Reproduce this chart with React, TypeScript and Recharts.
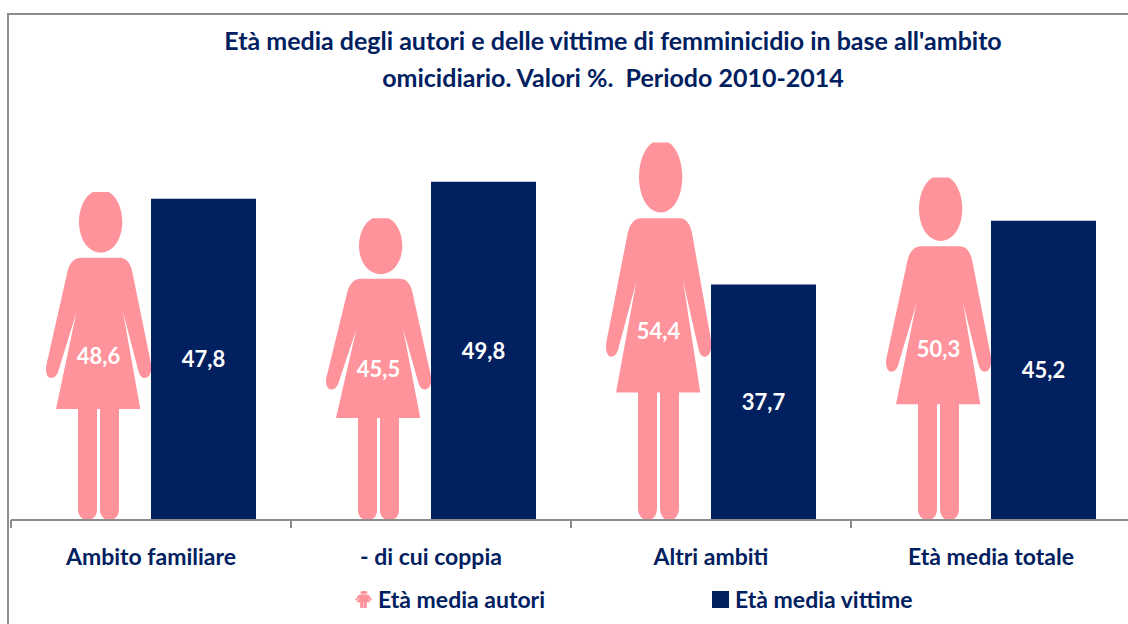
import React from "react";
import { BarChart, Bar, XAxis, YAxis, Legend, LabelList } from "recharts";

const categories = ["Ambito familiare", "- di cui coppia", "Altri ambiti", "Età media totale"];
const vittime = [48.6, 45.5, 54.4, 50.3];
const autori = [47.8, 49.8, 37.7, 45.2];
const titleLines = [
  "Età media degli autori e delle vittime di femminicidio in base all'ambito",
  "omicidiario. Valori %.  Periodo 2010-2014",
];

const chartData = categories.map((name, i) => ({
  name,
  vittime: vittime[i],
  autori: autori[i],
}));

const PINK = "#ff939c";
const NAVY = "#002060";
const GREY = "#8c8c8c";
const FONT = "Lato, 'Open Sans', sans-serif";
const BAND = 280;

// silhouette traced on a 315 x 982 master, stretched to whatever box the bar gets
const figurePath = (x: number, y: number, w: number, h: number) => {
  const X = (v: number) => (x + (v / 315) * w).toFixed(1);
  const Y = (v: number) => (y + (v / 982) * h).toFixed(1);
  const P = (a: number, b: number) => `${X(a)} ${Y(b)}`;
  return [
    // head
    `M${P(140, 0)} L${P(188, 0)} C${P(215, 14)} ${P(229, 54)} ${P(229, 89)} C${P(229, 144)} ${P(200, 182)} ${P(164, 182)} C${P(128, 182)} ${P(99, 144)} ${P(99, 89)} C${P(99, 54)} ${P(113, 14)} ${P(140, 0)} Z`,
    // arms and dress
    `M${P(105, 197)} L${P(222, 197)} C${P(240, 197)} ${P(252, 212)} ${P(258, 235)} L${P(314, 510)} C${P(320, 540)} ${P(310, 557)} ${P(296, 557)} C${P(286, 557)} ${P(281, 548)} ${P(277, 535)} L${P(231, 359)} L${P(283, 650)} L${P(30, 650)} L${P(91, 362)} L${P(36, 540)} C${P(31, 552)} ${P(25, 557)} ${P(15, 557)} C${P(4, 557)} ${P(-2, 540)} ${P(1, 520)} L${P(65, 235)} C${P(72, 212)} ${P(85, 197)} ${P(105, 197)} Z`,
    // legs
    `M${P(96, 650)} L${P(153, 650)} L${P(153, 950)} C${P(153, 970)} ${P(142, 982)} ${P(125, 982)} C${P(108, 982)} ${P(96, 970)} ${P(96, 950)} Z`,
    `M${P(162, 650)} L${P(219, 650)} L${P(219, 950)} C${P(219, 970)} ${P(208, 982)} ${P(190, 982)} C${P(173, 982)} ${P(162, 970)} ${P(162, 950)} Z`,
  ].join(" ");
};

const FigureBar = (props: any) => (
  <path d={figurePath(props.x, props.y, props.width, props.height)} fill={PINK} />
);

const CategoryTick = (props: any) => {
  const { x, y, payload, index } = props;
  const left = x - BAND / 2;
  return (
    <g>
      <line x1={left} x2={left} y1={y - 8} y2={y} stroke={GREY} strokeWidth={2} />
      {index === categories.length - 1 && (
        <line x1={left + BAND} x2={left + BAND} y1={y - 8} y2={y} stroke={GREY} strokeWidth={2} />
      )}
      <text
        x={x}
        y={y + 37}
        textAnchor="middle"
        fill={NAVY}
        fontFamily={FONT}
        fontWeight={700}
        fontSize={23}
      >
        {payload.value}
      </text>
    </g>
  );
};

const LegendContent = (props: any) => {
  const offsets = [344, 701];
  return (
    <div style={{ position: "relative", height: 40 }}>
      {(props.payload || []).map((entry: any, i: number) => (
        <div
          key={entry.value}
          style={{
            position: "absolute",
            left: offsets[i],
            top: 5,
            display: "flex",
            alignItems: "center",
            fontFamily: FONT,
            fontWeight: 700,
            fontSize: 23,
            color: NAVY,
            whiteSpace: "nowrap",
          }}
        >
          <svg width={17} height={17} style={{ marginRight: 6 }}>
            {i === 0 ? (
              <path d={figurePath(0, 0, 17, 17)} fill={PINK} />
            ) : (
              <rect width={17} height={17} fill={NAVY} />
            )}
          </svg>
          {entry.value}
        </div>
      ))}
    </div>
  );
};

const labelStyle = { fontFamily: FONT, fontWeight: 700, fontSize: 22 };
const toComma = (v: any) => String(v).replace(".", ",");

const App: React.FC = () => {
  return (
    <div
      style={{
        position: "absolute",
        left: 0,
        top: 0,
        width: 1128,
        height: 624,
        overflow: "hidden",
        background: "#fff",
      }}
    >
      {/* chart frame, only the top and left edges are in shot */}
      <div
        style={{
          position: "absolute",
          left: 7,
          top: 13,
          width: 1200,
          height: 700,
          borderLeft: `2px solid ${GREY}`,
          borderTop: `2px solid ${GREY}`,
        }}
      />
      <div
        style={{
          position: "absolute",
          left: 0,
          top: 22,
          width: 1226,
          textAlign: "center",
          fontFamily: FONT,
          fontWeight: 700,
          fontSize: 25,
          lineHeight: "37px",
          color: NAVY,
          whiteSpace: "pre",
        }}
      >
        {titleLines.map((line) => (
          <div key={line}>{line}</div>
        ))}
      </div>
      <BarChart
        width={1140}
        height={624}
        data={chartData}
        margin={{ top: 95, right: 9, bottom: 4, left: 11 }}
        barCategoryGap="12.5%"
        barGap={0}
        style={{ position: "absolute", left: 0, top: 0 }}
      >
        <XAxis
          dataKey="name"
          height={60}
          interval={0}
          axisLine={{ stroke: GREY, strokeWidth: 2 }}
          tickLine={false}
          tick={<CategoryTick />}
        />
        <YAxis hide domain={[10, 60]} />
        <Legend height={40} content={<LegendContent />} />
        <Bar
          dataKey="vittime"
          name="Età media vittime"
          fill={PINK}
          shape={<FigureBar />}
          isAnimationActive={false}
        >
          <LabelList dataKey="vittime" position="center" fill="#fff" formatter={toComma} style={labelStyle} />
        </Bar>
        <Bar dataKey="autori" name="Età media autori" fill={NAVY} isAnimationActive={false}>
          <LabelList dataKey="autori" position="center" fill="#fff" formatter={toComma} style={labelStyle} />
        </Bar>
      </BarChart>
    </div>
  );
};

export default App;
